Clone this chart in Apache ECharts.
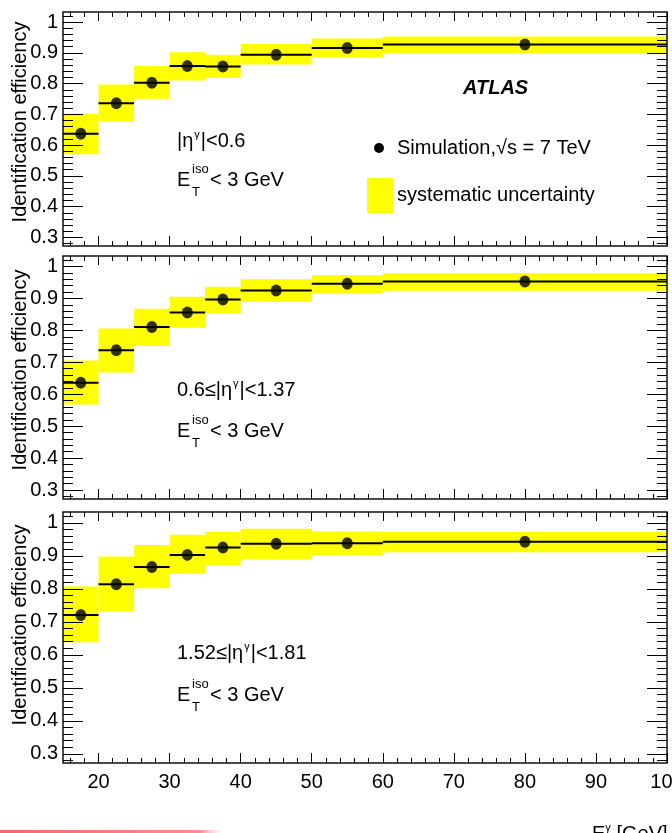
<!DOCTYPE html>
<html>
<head>
<meta charset="utf-8">
<script src="https://cdn.jsdelivr.net/npm/echarts@6.0.0/dist/echarts.min.js"></script>
<style>
  html, body { margin: 0; padding: 0; background: #fff; }
  #chart { width: 672px; height: 833px; }
</style>
</head>
<body>
<div id="chart"></div>
<script>
// E_T^gamma bins [GeV]
var binLo = [15, 20, 25, 30, 35, 40, 50, 60];
var binHi = [20, 25, 30, 35, 40, 50, 60, 100];
var binMid = [17.5, 22.5, 27.5, 32.5, 37.5, 45, 55, 80];

// |eta| < 0.6
var eff1 = [0.637, 0.736, 0.803, 0.857, 0.856, 0.894, 0.916, 0.927];
var sysLo1 = [0.570, 0.677, 0.751, 0.810, 0.818, 0.862, 0.886, 0.899];
var sysHi1 = [0.702, 0.797, 0.857, 0.902, 0.894, 0.929, 0.947, 0.953];

// 0.6 <= |eta| < 1.37
var eff2 = [0.636, 0.738, 0.811, 0.856, 0.897, 0.925, 0.946, 0.953];
var sysLo2 = [0.568, 0.668, 0.751, 0.808, 0.854, 0.889, 0.916, 0.924];
var sysHi2 = [0.706, 0.806, 0.868, 0.905, 0.937, 0.960, 0.973, 0.979];

// 1.52 <= |eta| < 1.81
var eff3 = [0.721, 0.814, 0.866, 0.903, 0.925, 0.937, 0.938, 0.943];
var sysLo3 = [0.638, 0.731, 0.802, 0.845, 0.872, 0.890, 0.903, 0.911];
var sysHi3 = [0.807, 0.898, 0.933, 0.964, 0.972, 0.982, 0.974, 0.972];

var xTicks = [20, 30, 40, 50, 60, 70, 80, 90, 100];
var yTicks = [0.3, 0.4, 0.5, 0.6, 0.7, 0.8, 0.9, 1];

var FONT = '"Liberation Sans", Arial, Helvetica, sans-serif';
var YELLOW = '#ffff00';

// minor tick positions (ROOT style: 2 GeV and 0.02)
var xMinor = [];
for (var v = 16; v < 100; v += 2) { if (v % 10) xMinor.push(v); }
var yMinor = [];
for (var k = 28; k <= 102; k += 2) { if (k % 10) yMinor.push(k / 100); }

var panels = [
  { eff: eff1, lo: sysLo1, hi: sysHi1, top: 12, height: 234, title: 122 },
  { eff: eff2, lo: sysLo2, hi: sysHi2, top: 256, height: 243, title: 370 },
  { eff: eff3, lo: sysLo3, hi: sysHi3, top: 512, height: 251, title: 625 }
];

var grids = [], xAxes = [], yAxes = [], series = [];

function xAx(i, pos, vals, len, labels) {
  return {
    gridIndex: i, type: 'value', position: pos, min: 15, max: 100, z: 6,
    axisLine: { show: false, onZero: false },
    splitLine: { show: false },
    axisTick: { show: true, inside: true, length: len, customValues: vals, lineStyle: { color: '#000', width: 1 } },
    axisLabel: labels
      ? { show: true, customValues: vals, margin: 9, color: '#000', fontSize: 20, fontFamily: FONT }
      : { show: false }
  };
}
function yAx(i, pos, vals, len, labels) {
  return {
    gridIndex: i, type: 'value', position: pos, min: 0.272, max: 1.033, z: 6,
    axisLine: { show: false, onZero: false },
    splitLine: { show: false },
    axisTick: { show: true, inside: true, length: len, customValues: vals, lineStyle: { color: '#000', width: 1 } },
    axisLabel: labels
      ? { show: true, customValues: vals, margin: 5, color: '#000', fontSize: 20, fontFamily: FONT,
          formatter: function (v) { return v === 1 ? '1' : v.toFixed(1); } }
      : { show: false }
  };
}

panels.forEach(function (p, i) {
  grids.push({
    left: 63, top: p.top, width: 604, height: p.height,
    containLabel: false, outerBoundsMode: 'none',
    show: true, borderColor: '#111', borderWidth: 1.5, backgroundColor: 'transparent', z: 6
  });
  xAxes.push(xAx(i, 'bottom', xTicks, 10, i === 2));
  xAxes.push(xAx(i, 'bottom', xMinor, 5, false));
  xAxes.push(xAx(i, 'top', xTicks, 9, false));
  xAxes.push(xAx(i, 'top', xMinor, 5, false));
  yAxes.push(yAx(i, 'left', yTicks, 20, true));
  yAxes.push(yAx(i, 'left', yMinor, 10, false));
  yAxes.push(yAx(i, 'right', yTicks, 20, false));
  yAxes.push(yAx(i, 'right', yMinor, 10, false));

  var ax = { xAxisIndex: 4 * i, yAxisIndex: 4 * i };

  series.push(Object.assign({
    type: 'custom', z: 1, silent: true,
    data: p.eff.map(function (e, k) { return [binLo[k], binHi[k], p.lo[k], p.hi[k]]; }),
    encode: { x: [0, 1], y: [2, 3] },
    renderItem: function (params, api) {
      var a = api.coord([api.value(0), api.value(3)]);
      var b = api.coord([api.value(1), api.value(2)]);
      return { type: 'rect', shape: { x: a[0], y: a[1], width: b[0] - a[0], height: b[1] - a[1] }, style: { fill: YELLOW } };
    }
  }, ax));

  series.push(Object.assign({
    type: 'custom', z: 2, silent: true,
    data: p.eff.map(function (e, k) { return [binLo[k], binHi[k], e]; }),
    encode: { x: [0, 1], y: 2 },
    renderItem: function (params, api) {
      var a = api.coord([api.value(0), api.value(2)]);
      var b = api.coord([api.value(1), api.value(2)]);
      return { type: 'line', shape: { x1: a[0], y1: a[1], x2: b[0], y2: b[1] }, style: { stroke: '#000', lineWidth: 2 } };
    }
  }, ax));

  series.push(Object.assign({
    type: 'scatter', z: 3, silent: true,
    symbol: 'circle', symbolSize: [11, 12],
    itemStyle: { color: '#000' },
    data: binMid.map(function (x, k) { return [x, p.eff[k]]; })
  }, ax));
});

function txt(x, y, s, size, extra) {
  return {
    type: 'text', x: x, y: y, z: 100,
    style: Object.assign({ text: s, fontSize: size, fontFamily: FONT, fill: '#000', align: 'left', verticalAlign: 'middle' }, extra || {})
  };
}

function etaLabel(x, y, pre, post) {
  return {
    type: 'text', x: x, y: y, z: 100,
    style: {
      text: '{n|' + pre + '|η}{s|γ}{n||' + post + '}',
      fontFamily: FONT, fill: '#000', align: 'left', verticalAlign: 'middle',
      rich: {
        n: { fontSize: 20, fontFamily: FONT, lineHeight: 24 },
        s: { fontSize: 11, fontFamily: FONT, verticalAlign: 'top', padding: [0, 1, 0, 1] }
      }
    }
  };
}

function isoLabel(x, y) {
  return [
    txt(x, y, 'E', 20),
    txt(x + 15, y - 11, 'iso', 13),
    txt(x + 15, y + 12, 'T', 13),
    txt(x + 33, y, '< 3 GeV', 20)
  ];
}

var graphics = [];
panels.forEach(function (p) {
  var t = txt(20, p.title, 'Identification efficiency', 20, { align: 'center' });
  t.rotation = Math.PI / 2;
  graphics.push(t);
});
graphics.push(etaLabel(177, 141, '', '<0.6'));
graphics = graphics.concat(isoLabel(177, 180));
graphics.push(etaLabel(177, 390, '0.6≤', '<1.37'));
graphics = graphics.concat(isoLabel(177, 431));
graphics.push(etaLabel(177, 653, '1.52≤', '<1.81'));
graphics = graphics.concat(isoLabel(177, 695));

// legend, panel 1
graphics.push(txt(463, 88, 'ATLAS', 20, { fontWeight: 'bold', fontStyle: 'italic' }));
graphics.push({ type: 'circle', shape: { cx: 379, cy: 148, r: 5 }, style: { fill: '#000' }, z: 100 });
graphics.push(txt(397, 148, 'Simulation,√s = 7 TeV', 20));
graphics.push({ type: 'rect', shape: { x: 367, y: 178, width: 26, height: 35 }, style: { fill: YELLOW }, z: 100 });
graphics.push(txt(397, 195, 'systematic uncertainty', 20));

// x axis title (cut at the page edge)
graphics.push({
  type: 'text', x: 592, y: 822, z: 100,
  style: {
    text: '{n|E}{s|γ}{n| [GeV]}', fontFamily: FONT, fill: '#000', align: 'left', verticalAlign: 'top',
    rich: {
      n: { fontSize: 20, fontFamily: FONT, lineHeight: 24 },
      s: { fontSize: 11, fontFamily: FONT, verticalAlign: 'top' }
    }
  }
});

// stray red bar at the bottom
graphics.push({
  type: 'rect', shape: { x: 0, y: 830, width: 222, height: 3 }, z: 100,
  style: {
    fill: new echarts.graphic.LinearGradient(0, 0, 1, 0, [
      { offset: 0, color: '#f06a6a' },
      { offset: 0.9, color: '#f59090' },
      { offset: 1, color: 'rgba(250,180,180,0)' }
    ])
  }
});

var chart = echarts.init(document.getElementById('chart'));
chart.setOption({
  animation: false,
  backgroundColor: '#fff',
  grid: grids,
  xAxis: xAxes,
  yAxis: yAxes,
  series: series,
  graphic: graphics
});
</script>
</body>
</html>
